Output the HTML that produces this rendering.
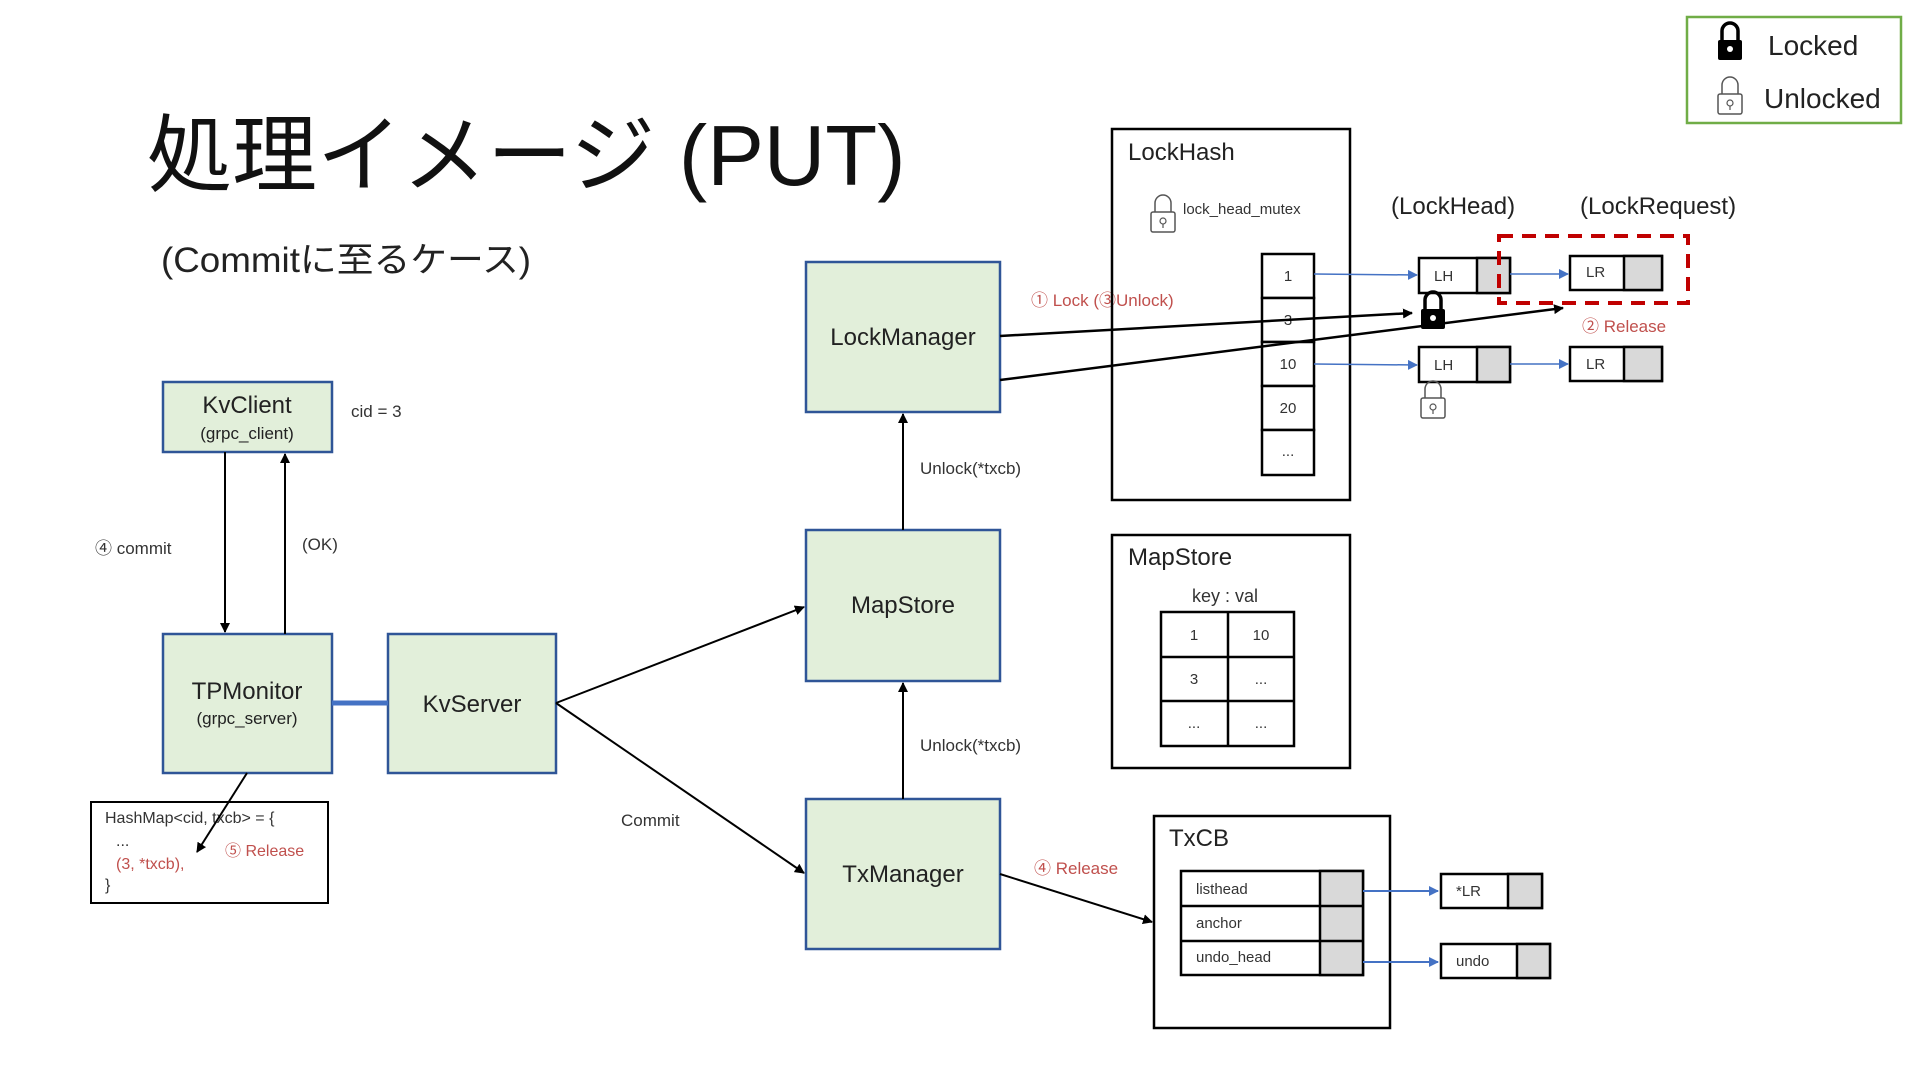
<!DOCTYPE html>
<html><head><meta charset="utf-8"><style>
html,body{margin:0;padding:0;background:#fff;}
svg{display:block;font-family:"Liberation Sans","Noto Sans CJK JP",sans-serif;}
</style></head><body>
<svg width="1920" height="1080" viewBox="0 0 1920 1080" xmlns="http://www.w3.org/2000/svg">
<defs>
<marker id="ab" markerWidth="10" markerHeight="10" refX="9" refY="5" orient="auto" markerUnits="userSpaceOnUse"><path d="M0,0 L10,5 L0,10 z" fill="#000"/></marker>
<marker id="abl" markerWidth="10" markerHeight="10" refX="9" refY="5" orient="auto" markerUnits="userSpaceOnUse"><path d="M0,0 L10,5 L0,10 z" fill="#4472c4"/></marker>
<g id="lockC"><path d="M-8,0 V-9 A8,8 0 0 1 8,-9 V0" fill="none" stroke="#000" stroke-width="3.5"/><rect x="-12" y="0" width="24" height="20" rx="2" fill="#000"/><circle cx="0" cy="9" r="3" fill="#fff"/></g>
<g id="lockO"><path d="M-8,0 V-9 A8,8 0 0 1 8,-9 V0" fill="none" stroke="#555" stroke-width="1.5"/><rect x="-12" y="0" width="24" height="20" rx="2" fill="#fff" stroke="#555" stroke-width="1.5"/><circle cx="0" cy="9" r="3" fill="none" stroke="#555" stroke-width="1.2"/><line x1="0" y1="12" x2="0" y2="16" stroke="#555" stroke-width="1.2"/></g>
</defs>

<g transform="translate(-3,0)">
<!-- title -->
<text x="150" y="185" font-size="85" fill="#111">処理イメージ (PUT)</text>
<text x="164" y="272" font-size="35" fill="#222" textLength="370" lengthAdjust="spacingAndGlyphs">(Commitに至るケース)</text>

<!-- legend -->
<rect x="1690" y="17" width="214" height="106" fill="#fff" stroke="#70ad47" stroke-width="2.5"/>
<use href="#lockC" x="1733" y="40"/>
<text x="1771" y="55" font-size="28" fill="#222">Locked</text>
<use href="#lockO" x="1733" y="94"/>
<text x="1767" y="108" font-size="28" fill="#222">Unlocked</text>

<!-- HashMap box -->
<rect x="94" y="802" width="237" height="101" fill="#fff" stroke="#000" stroke-width="2"/>
<g font-size="16" fill="#333">
<text x="108" y="823">HashMap&lt;cid, txcb&gt; = {</text>
<text x="119" y="846">...</text>
<text x="119" y="869" fill="#c0504d">(3, *txcb),</text>
<text x="108" y="890">}</text>
<text x="228" y="856" fill="#c0504d">⑤ Release</text>
</g>

<!-- main green boxes -->
<g fill="#e2efda" stroke="#2f5597" stroke-width="2.5">
<rect x="166" y="382" width="169" height="70"/>
<rect x="166" y="634" width="169" height="139"/>
<rect x="391" y="634" width="168" height="139"/>
<rect x="809" y="262" width="194" height="150"/>
<rect x="809" y="530" width="194" height="151"/>
<rect x="809" y="799" width="194" height="150"/>
</g>
<g font-size="24" fill="#222" text-anchor="middle">
<text x="250" y="413">KvClient</text>
<text x="250" y="439" font-size="17">(grpc_client)</text>
<text x="250" y="699">TPMonitor</text>
<text x="250" y="724" font-size="17">(grpc_server)</text>
<text x="475" y="712">KvServer</text>
<text x="906" y="345">LockManager</text>
<text x="906" y="613">MapStore</text>
<text x="906" y="882">TxManager</text>
</g>

<!-- left connectors -->
<g stroke="#000" stroke-width="2" fill="none">
<line x1="228" y1="452" x2="228" y2="632" marker-end="url(#ab)"/>
<line x1="288" y1="634" x2="288" y2="454" marker-end="url(#ab)"/>
<line x1="559" y1="703" x2="807" y2="607" marker-end="url(#ab)"/>
<line x1="559" y1="703" x2="807" y2="873" marker-end="url(#ab)"/>
<line x1="906" y1="530" x2="906" y2="414" marker-end="url(#ab)"/>
<line x1="906" y1="799" x2="906" y2="683" marker-end="url(#ab)"/>
<line x1="1003" y1="874" x2="1155" y2="922" marker-end="url(#ab)"/>
<line x1="250" y1="773" x2="200" y2="852" marker-end="url(#ab)"/>
</g>
<line x1="335" y1="703" x2="391" y2="703" stroke="#4472c4" stroke-width="5"/>

<g font-size="17" fill="#333">
<text x="98" y="554">④ commit</text>
<text x="305" y="550">(OK)</text>
<text x="354" y="417">cid = 3</text>
<text x="624" y="826">Commit</text>
<text x="923" y="474">Unlock(*txcb)</text>
<text x="923" y="751">Unlock(*txcb)</text>
</g>
<g font-size="17" fill="#c0504d">
<text x="1034" y="306">① Lock (③Unlock)</text>
<text x="1037" y="874">④ Release</text>
<text x="1585" y="332">② Release</text>
</g>

<!-- LockHash -->
<rect x="1115" y="129" width="238" height="371" fill="none" stroke="#000" stroke-width="2.5"/>
<text x="1131" y="160" font-size="24" fill="#222">LockHash</text>
<use href="#lockO" x="1166" y="212"/>
<text x="1186" y="214" font-size="15" fill="#333">lock_head_mutex</text>
<g fill="#fff" stroke="#000" stroke-width="2.5">
<rect x="1265" y="254" width="52" height="44"/>
<rect x="1265" y="298" width="52" height="44"/>
<rect x="1265" y="342" width="52" height="44"/>
<rect x="1265" y="386" width="52" height="44"/>
<rect x="1265" y="430" width="52" height="45"/>
</g>
<g font-size="15" fill="#333" text-anchor="middle">
<text x="1291" y="281">1</text>
<text x="1291" y="325">3</text>
<text x="1291" y="369">10</text>
<text x="1291" y="413">20</text>
<text x="1291" y="456">...</text>
</g>
<line x1="1003" y1="336" x2="1415" y2="313" stroke="#000" stroke-width="2.5" marker-end="url(#ab)"/>
<line x1="1003" y1="380" x2="1566" y2="308" stroke="#000" stroke-width="2.5" marker-end="url(#ab)"/>
<text x="1394" y="214" font-size="24" fill="#222">(LockHead)</text>
<text x="1583" y="214" font-size="24" fill="#222">(LockRequest)</text>

<!-- LH / LR nodes -->
<g stroke="#000" stroke-width="2.5">
<rect x="1422" y="258" width="91" height="35" fill="#fff"/><rect x="1480" y="258" width="33" height="35" fill="#d9d9d9"/>
<rect x="1422" y="347" width="91" height="35" fill="#fff"/><rect x="1480" y="347" width="33" height="35" fill="#d9d9d9"/>
<rect x="1573" y="256" width="92" height="34" fill="#fff"/><rect x="1627" y="256" width="38" height="34" fill="#d9d9d9"/>
<rect x="1573" y="347" width="92" height="34" fill="#fff"/><rect x="1627" y="347" width="38" height="34" fill="#d9d9d9"/>
</g>
<g font-size="15" fill="#333">
<text x="1437" y="281">LH</text><text x="1437" y="370">LH</text>
<text x="1589" y="277">LR</text><text x="1589" y="369">LR</text>
</g>
<g stroke="#4472c4" stroke-width="1.5">
<line x1="1317" y1="274" x2="1420" y2="275" marker-end="url(#abl)"/>
<line x1="1317" y1="364" x2="1420" y2="365" marker-end="url(#abl)"/>
<line x1="1513" y1="274" x2="1571" y2="274" marker-end="url(#abl)"/>
<line x1="1513" y1="364" x2="1571" y2="364" marker-end="url(#abl)"/>
</g>
<rect x="1502" y="236" width="189" height="67" fill="none" stroke="#c00000" stroke-width="4" stroke-dasharray="14,9"/>
<use href="#lockC" x="1436" y="309"/>
<use href="#lockO" x="1436" y="398"/>

<!-- MapStore panel -->
<rect x="1115" y="535" width="238" height="233" fill="none" stroke="#000" stroke-width="2.5"/>
<text x="1131" y="565" font-size="24" fill="#222">MapStore</text>
<text x="1228" y="602" font-size="18" fill="#333" text-anchor="middle">key : val</text>
<g fill="none" stroke="#000" stroke-width="2.5">
<rect x="1164" y="612" width="133" height="134"/>
<line x1="1231" y1="612" x2="1231" y2="746"/>
<line x1="1164" y1="657" x2="1297" y2="657"/>
<line x1="1164" y1="701" x2="1297" y2="701"/>
</g>
<g font-size="15" fill="#333" text-anchor="middle">
<text x="1197" y="640">1</text><text x="1264" y="640">10</text>
<text x="1197" y="684">3</text><text x="1264" y="684">...</text>
<text x="1197" y="728">...</text><text x="1264" y="728">...</text>
</g>

<!-- TxCB -->
<rect x="1157" y="816" width="236" height="212" fill="none" stroke="#000" stroke-width="2.5"/>
<text x="1172" y="846" font-size="24" fill="#222">TxCB</text>
<g stroke="#000" stroke-width="2.5">
<rect x="1184" y="871" width="182" height="104" fill="#fff"/>
<rect x="1323" y="871" width="43" height="104" fill="#d9d9d9"/>
<line x1="1184" y1="906" x2="1366" y2="906"/>
<line x1="1184" y1="941" x2="1366" y2="941"/>
<rect x="1444" y="874" width="101" height="34" fill="#fff"/><rect x="1511" y="874" width="34" height="34" fill="#d9d9d9"/>
<rect x="1444" y="944" width="109" height="34" fill="#fff"/><rect x="1520" y="944" width="33" height="34" fill="#d9d9d9"/>
</g>
<g font-size="15" fill="#333">
<text x="1199" y="894">listhead</text>
<text x="1199" y="928">anchor</text>
<text x="1199" y="962">undo_head</text>
<text x="1459" y="896">*LR</text>
<text x="1459" y="966">undo</text>
</g>
<g stroke="#4472c4" stroke-width="2">
<line x1="1366" y1="891" x2="1441" y2="891" marker-end="url(#abl)"/>
<line x1="1366" y1="962" x2="1441" y2="962" marker-end="url(#abl)"/>
</g>
</g>
</svg>
</body></html>
